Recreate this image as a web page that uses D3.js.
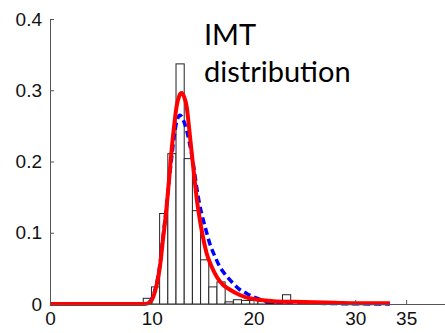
<!DOCTYPE html>
<html lang="en">
	<head>
		<meta charset="utf-8">
		<title>IMT distribution</title>
		<script src="https://d3js.org/d3.v7.min.js"></script>
		<style>
			body { margin: 0; background: #fff; }
		</style>
	</head>

	<body>
		<script type="text/javascript">

			// histogram bins (density), first edge + bin width in data units
			var binStart = 9.165
			var binWidth = 0.805
			var binHeights = [0.008, 0.024, 0.127, 0.211, 0.337, 0.204, 0.131, 0.062, 0.024, 0.031,
							  0.003, 0.006, 0.005, 0.005, 0.004, 0.001, 0, 0.013, 0, 0,
							  0, 0, 0, 0, 0, 0, 0, 0, 0, 0.002]

			// fitted curves: [x, density]
			var redFit = [[0,0],[9.3,0],[9.8,0.002],[10.15,0.01],[10.5,0.028],[10.8,0.052],[11.1,0.09],
						  [11.46,0.136],[11.7,0.175],[11.95,0.216],[12.2,0.25],[12.44,0.277],[12.7,0.292],
						  [12.93,0.296],[13.2,0.29],[13.43,0.277],[13.65,0.25],[13.9,0.216],[14.15,0.183],
						  [14.4,0.15],[14.65,0.125],[14.9,0.104],[15.4,0.071],[15.9,0.052],[16.4,0.038],
						  [17,0.027],[17.7,0.02],[18.6,0.013],[19.6,0.008],[20.5,0.006],[22,0.004],
						  [24,0.003],[27,0.002],[30,0.001],[33.4,0.001]]

			var blueFit = [[0,0],[9.3,0],[9.8,0.003],[10.15,0.012],[10.5,0.03],[10.8,0.055],[11.1,0.093],
						   [11.46,0.138],[11.7,0.172],[11.95,0.205],[12.2,0.235],[12.44,0.255],[12.77,0.265],
						   [13.1,0.258],[13.43,0.244],[13.65,0.23],[13.9,0.212],[14.15,0.19],[14.4,0.165],
						   [14.7,0.14],[15.06,0.118],[15.4,0.1],[15.7,0.085],[16.2,0.067],[16.7,0.052],
						   [17.3,0.04],[18,0.029],[18.67,0.02],[19.3,0.015],[20,0.01],[21.3,0.004],
						   [23,0.002],[26,0.001],[33.4,0]]

			var xTicks = [0, 10, 20, 30, 35]
			var yTicks = [0, 0.1, 0.2, 0.3, 0.4]
			var labelLines = ["IMT", "distribution"]

			// window setup
			var w = 445
			var h = 333

			var x = d3.scaleLinear().domain([0, 40]).range([50, 457])
			var y = d3.scaleLinear().domain([0, 0.4]).range([304, 19])

			var svg = d3.select("body")
						.append("svg")
						.attr("width", w)
						.attr("height", h)

			// bars
			svg.selectAll("rect.bin")
				.data(binHeights)
				.enter()
				.append("rect")
				.attr("class", "bin")
				.attr("x", function(d, i){ return x(binStart + i * binWidth) })
				.attr("width", function(d, i){ return x(binStart + (i + 1) * binWidth) - x(binStart + i * binWidth) })
				.attr("y", function(d){ return y(d) })
				.attr("height", function(d){ return y(0) - y(d) })
				.style("fill", "#fff")
				.style("stroke", "#222")
				.style("stroke-width", 1)

			var line = d3.line()
						.x(function(d){ return x(d[0]) })
						.y(function(d){ return y(d[1]) })
						.curve(d3.curveMonotoneX)

			svg.append("path")
				.attr("d", line(blueFit))
				.style("fill", "none")
				.style("stroke", "#0000ff")
				.style("stroke-width", 3.5)
				.style("stroke-dasharray", "7,4")

			svg.append("path")
				.attr("d", line(redFit))
				.style("fill", "none")
				.style("stroke", "#ff0000")
				.style("stroke-width", 4)
				.style("stroke-linejoin", "round")

			// axes (matlab style: ticks inward, no box)
			var xAxis = d3.axisBottom(x).tickValues(xTicks).tickSizeInner(-4).tickSizeOuter(0).tickPadding(8)
			var yAxis = d3.axisLeft(y).tickValues(yTicks).tickSizeInner(-4).tickSizeOuter(0).tickPadding(8)
							.tickFormat(function(d){ return d === 0 ? "0" : d3.format(".1f")(d) })

			var gx = svg.append("g").attr("transform", "translate(0," + y(0) + ")").call(xAxis)
			var gy = svg.append("g").attr("transform", "translate(" + x(0) + ",0)").call(yAxis)

			svg.selectAll(".domain, .tick line").style("stroke", "#555")
			svg.selectAll(".tick text")
				.style("font-family", "'Liberation Sans', Arial, sans-serif")
				.style("font-size", "19px")
				.style("fill", "#111")

			// annotation
			svg.selectAll("text.label")
				.data(labelLines)
				.enter()
				.append("text")
				.attr("class", "label")
				.attr("x", 204)
				.attr("y", function(d, i){ return 45 + i * 37 })
				.text(function(d){ return d })
				.style("font-family", "Lato, sans-serif")
				.style("font-size", "29px")
				.style("fill", "#000")

		</script>

	</body>
</html>
